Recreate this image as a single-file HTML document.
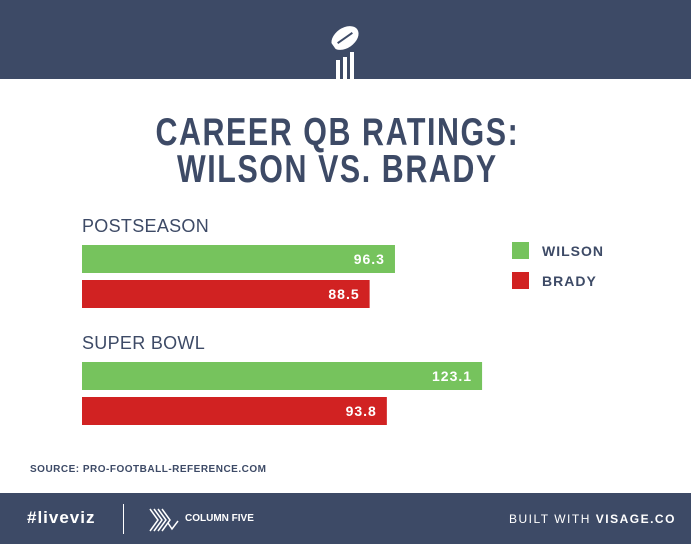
<!DOCTYPE html>
<html><head><meta charset="utf-8"><style>
body{margin:0;width:691px;height:544px;overflow:hidden;background:#fff;font-family:"Liberation Sans",sans-serif;position:relative}
.abs{position:absolute}
</style></head><body>
<div class="abs" style="left:0;top:0;width:691px;height:79px;background:#3d4a66"></div>
<svg class="abs" style="left:320px;top:20px" width="50" height="60" viewBox="0 0 50 60">
 <g transform="rotate(-35 25 18)"><ellipse cx="25" cy="18" rx="15" ry="10" fill="#fff"/>
 <line x1="16" y1="18" x2="34" y2="18" stroke="#3d4a66" stroke-width="2"/>
 <line x1="10" y1="10" x2="10" y2="26" stroke="#3d4a66" stroke-width="2"/></g>
 <rect x="16" y="40" width="4" height="20" fill="#fff"/><rect x="23" y="37" width="4" height="23" fill="#fff"/><rect x="30" y="32" width="4" height="28" fill="#fff"/>
</svg>
<div class="abs" style="left:-8px;top:114px;width:691px;text-align:center;font-weight:bold;font-size:39px;line-height:37px;letter-spacing:2px;color:#3d4a66;transform:scaleX(0.78);transform-origin:345px 0">CAREER QB RATINGS:<br>WILSON VS. BRADY</div>
<svg class="abs" id="chart" style="left:0;top:200px" width="691" height="260"></svg>
<div class="abs" style="left:30px;top:464px;font-size:10px;font-weight:bold;letter-spacing:0.5px;color:#3d4a66">SOURCE: PRO-FOOTBALL-REFERENCE.COM</div>
<div class="abs" style="left:0;top:493px;width:691px;height:51px;background:#3d4a66"></div>
<div class="abs" style="left:27px;top:508px;font-size:17px;font-weight:bold;letter-spacing:1px;color:#fff">#liveviz</div>
<div class="abs" style="left:123px;top:504px;width:1px;height:30px;background:#fff"></div>
<svg class="abs" style="left:146px;top:505px" width="36" height="30"><g stroke="#fff" stroke-width="1.5" fill="none"><path d="M4 4 L12 15 L4 26"/><path d="M8 4 L16 15 L8 26"/><path d="M12 4 L20 15 L12 26"/><path d="M16 4 L24 15 L16 26"/><path d="M22 18 L26 24 L32 16"/></g></svg>
<div class="abs" style="left:185px;top:513px;font-size:10px;font-weight:bold;color:#fff">COLUMN FIVE</div>
<div class="abs" style="left:509px;top:512px;font-size:12px;letter-spacing:1.5px;color:#fff">BUILT WITH <b>VISAGE.CO</b></div>
<script>
const categories=["POSTSEASON","SUPER BOWL"];
const wilson=[96.3,123.1];
const brady=[88.5,93.8];
const seriesNames=["WILSON","BRADY"];
const colors=["#76c35d","#d12222"];
const svg=document.getElementById('chart');
const NS="http://www.w3.org/2000/svg";
const x0=82, scale=3.25;
const xw=v=>v*scale;
function mk(t,a){const e=document.createElementNS(NS,t);for(const k in a)e.setAttribute(k,a[k]);svg.appendChild(e);return e;}
categories.forEach((c,i)=>{
 const gy=i*117;
 const lab=mk('text',{x:x0,y:gy+32,'font-size':18,fill:'#3d4a66','letter-spacing':'0.3'});
 lab.textContent=c;
 
 
 [wilson[i],brady[i]].forEach((v,j)=>{
  const y=gy+45+j*35;
  const r=mk('rect',{x:x0,y:y,width:xw(v),height:28,fill:colors[j]});
  
  
  const t=mk('text',{x:x0+xw(v)-10,y:y+19,'text-anchor':'end','font-size':14,'font-weight':'bold',fill:'#fff','letter-spacing':'1'});
  t.textContent=v.toFixed(1);
  
  
 });
});
seriesNames.forEach((n,j)=>{
 const r=mk('rect',{x:512,y:42+j*30,width:17,height:17,fill:colors[j]});
 
 
 const t=mk('text',{x:542,y:56+j*30,'font-size':14,'font-weight':'bold',fill:'#3d4a66','letter-spacing':'1'});
 t.textContent=n;
 
 
});
</script>
</body></html>
